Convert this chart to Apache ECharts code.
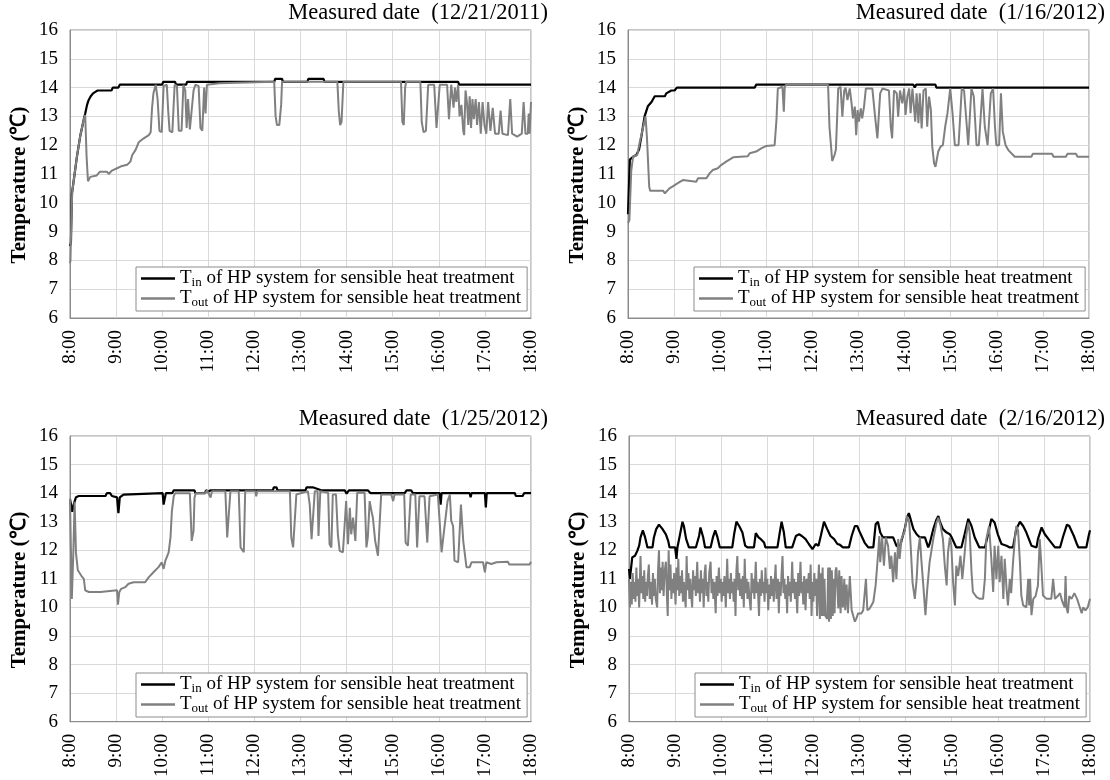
<!DOCTYPE html>
<html>
<head>
<meta charset="utf-8">
<title>HP system temperatures</title>
<script src="https://cdn.jsdelivr.net/npm/echarts@6/dist/echarts.min.js"></script>
<style>
    html, body { margin: 0; padding: 0; background: #fff; }
    #chart { width: 1110px; height: 780px; }
</style>
</head>
<body>
<div id="chart"></div>
<script>
// x = hour of day, y = temperature (℃)
var dates = ['12/21/2011', '1/16/2012', '1/25/2012', '2/16/2012'];
var hourTicks = [8, 9, 10, 11, 12, 13, 14, 15, 16, 17, 18];

var p1In = [[8.00,8.5],[8.02,8.6],[8.04,10.3],[8.10,11.0],[8.15,11.6],[8.22,12.3],[8.30,12.9],[8.33,13.1],[8.37,13.4],
    [8.40,13.55],[8.45,13.7],[8.50,13.8],[8.55,13.85],[8.60,13.9],[8.90,13.9],[8.93,14.0],[9.05,14.0],[9.08,14.1],
    [10.00,14.1],[10.02,14.2],[10.28,14.2],[10.30,14.1],[10.52,14.1],[10.54,14.2],[12.43,14.2],[12.45,14.3],
    [12.60,14.3],[12.62,14.2],[13.15,14.2],[13.17,14.3],[13.50,14.3],[13.52,14.2],[16.42,14.2],[16.44,14.1],[18.00,14.1]];
var p1Out = [[8.00,7.9],[8.01,8.0],[8.03,9.5],[8.05,10.4],[8.10,11.0],[8.15,11.6],[8.22,12.3],[8.30,12.9],[8.33,13.05],
    [8.36,11.6],[8.39,10.75],[8.44,10.9],[8.58,10.95],[8.65,11.08],[8.80,11.08],[8.84,11.0],[8.91,11.12],[9.02,11.2],
    [9.13,11.28],[9.24,11.32],[9.31,11.43],[9.35,11.66],[9.42,11.83],[9.49,12.1],[9.60,12.24],[9.71,12.35],[9.75,12.45],
    [9.78,13.3],[9.81,13.8],[9.86,14.1],[9.90,13.6],[9.94,12.5],[9.99,12.45],[10.03,14.05],[10.10,14.1],[10.13,13.2],
    [10.16,12.5],[10.22,12.45],[10.27,14.1],[10.32,14.05],[10.36,12.5],[10.42,12.5],[10.46,14.1],[10.50,13.9],[10.53,12.6],
    [10.56,13.6],[10.60,12.55],[10.64,12.5],[10.68,13.9],[10.72,14.1],[10.79,14.05],[10.83,12.6],[10.87,12.5],[10.91,14.0],
    [10.94,13.1],[10.97,14.1],[11.01,14.15],[11.24,14.15],[11.26,14.2],[12.43,14.2],[12.46,13.0],[12.49,12.7],[12.54,12.7],
    [12.58,13.4],[12.60,14.2],[13.80,14.2],[13.83,13.2],[13.86,12.7],[13.89,12.8],[13.93,14.2],[15.18,14.2],[15.21,12.8],
    [15.24,12.7],[15.27,14.0],[15.29,14.2],[15.60,14.2],[15.63,12.8],[15.67,12.45],[15.72,12.5],[15.77,14.1],[15.90,14.1],
    [15.95,12.6],[15.99,12.6],[16.02,14.1],[16.18,14.1],[16.22,12.9],[16.24,13.4],[16.27,14.1],[16.30,14.1],[16.32,13.3],
    [16.35,14.0],[16.38,13.5],[16.42,14.1],[16.45,13.0],[16.49,13.4],[16.53,12.5],[16.55,12.35],[16.58,13.9],[16.61,13.5],
    [16.64,12.7],[16.67,13.7],[16.70,12.6],[16.73,13.6],[16.76,12.9],[16.80,13.6],[16.83,12.7],[16.87,13.5],[16.91,12.4],
    [16.95,13.5],[16.99,12.7],[17.03,12.4],[17.07,13.5],[17.12,12.5],[17.17,13.3],[17.22,12.4],[17.30,12.4],[17.34,13.2],
    [17.38,12.4],[17.50,12.35],[17.55,13.6],[17.59,12.4],[17.70,12.3],[17.80,12.4],[17.84,13.5],[17.88,12.4],[17.93,12.4],
    [17.95,13.1],[17.97,12.4],[18.00,13.5]];

var p2In = [[8.00,9.6],[8.01,9.6],[8.04,11.5],[8.11,11.6],[8.18,11.66],[8.24,11.85],[8.29,12.3],[8.36,13.0],[8.43,13.35],
    [8.51,13.5],[8.58,13.7],[8.80,13.7],[8.83,13.8],[8.94,13.9],[9.01,13.9],[9.06,14.0],[10.75,14.0],[10.78,14.1],
    [14.19,14.1],[14.22,14.0],[14.25,14.1],[14.67,14.1],[14.69,14.0],[18.00,14.0]];
var p2Out = [[8.00,9.3],[8.03,9.4],[8.07,11.1],[8.11,11.6],[8.20,11.66],[8.25,12.07],[8.33,12.64],[8.38,13.0],[8.41,12.3],
    [8.46,10.56],[8.48,10.42],[8.76,10.42],[8.80,10.33],[8.83,10.38],[8.90,10.5],[8.98,10.58],[9.08,10.68],[9.19,10.79],
    [9.23,10.73],[9.48,10.73],[9.52,10.85],[9.70,10.85],[9.77,11.02],[9.84,11.14],[9.95,11.2],[10.02,11.31],[10.13,11.43],
    [10.28,11.58],[10.31,11.62],[10.60,11.62],[10.64,11.72],[10.78,11.78],[10.89,11.89],[10.99,11.97],[11.18,12.0],
    [11.22,12.87],[11.25,13.97],[11.35,14.03],[11.38,13.16],[11.40,14.03],[11.43,14.1],[12.34,14.1],[12.37,12.64],
    [12.43,11.45],[12.48,11.66],[12.51,11.85],[12.56,13.97],[12.61,14.03],[12.65,12.99],[12.69,13.9],[12.72,14.0],
    [12.76,13.57],[12.81,13.97],[12.85,13.45],[12.88,12.93],[12.92,13.34],[12.95,12.35],[12.98,13.22],[13.01,12.82],
    [13.05,13.28],[13.08,12.93],[13.12,13.34],[13.16,13.97],[13.30,13.97],[13.36,12.99],[13.41,12.24],[13.47,13.8],
    [13.52,13.97],[13.66,13.9],[13.70,12.64],[13.73,12.24],[13.77,13.9],[13.83,13.8],[13.86,12.99],[13.90,13.9],
    [13.95,13.45],[13.99,13.97],[14.02,13.05],[14.06,13.69],[14.10,13.97],[14.13,13.11],[14.17,13.97],[14.23,12.82],
    [14.26,13.8],[14.30,12.76],[14.33,13.8],[14.37,12.58],[14.41,13.9],[14.46,13.97],[14.49,12.64],[14.53,13.69],
    [14.57,13.22],[14.60,11.95],[14.64,11.37],[14.67,11.25],[14.73,11.78],[14.78,11.95],[14.83,12.0],[14.88,12.64],
    [14.93,13.11],[14.99,13.97],[15.04,13.11],[15.09,12.0],[15.17,12.0],[15.24,13.97],[15.29,13.9],[15.35,12.64],
    [15.38,12.0],[15.45,13.97],[15.50,13.7],[15.56,12.0],[15.61,12.0],[15.69,13.97],[15.74,12.64],[15.80,12.0],
    [15.87,13.8],[15.92,13.97],[15.96,12.64],[15.99,12.0],[16.05,12.0],[16.09,13.8],[16.13,12.47],[16.19,12.0],
    [16.25,11.83],[16.39,11.6],[16.75,11.6],[16.78,11.7],[17.20,11.7],[17.23,11.6],[17.50,11.6],[17.53,11.7],
    [17.72,11.7],[17.75,11.6],[18.00,11.6]];

var p3In = [[8.00,13.8],[8.02,13.8],[8.05,13.35],[8.08,13.6],[8.13,13.86],[8.19,13.9],[8.77,13.9],[8.80,14.0],[8.87,14.0],
    [8.91,13.9],[9.02,13.85],[9.05,13.3],[9.08,13.85],[9.16,13.95],[9.20,14.0],[10.01,14.0],[10.03,13.6],[10.06,13.6],
    [10.08,14.0],[10.22,14.0],[10.25,14.1],[10.70,14.1],[10.72,14.0],[10.93,14.0],[10.95,14.1],[11.00,14.05],[11.05,14.1],
    [12.40,14.1],[12.42,14.2],[12.48,14.2],[12.50,14.1],[13.11,14.1],[13.13,14.2],[13.28,14.2],[13.30,14.15],[13.45,14.1],
    [13.96,14.1],[14.00,13.98],[14.05,14.1],[14.46,14.1],[14.52,14.0],[15.26,14.0],[15.30,14.1],[15.40,14.1],[15.44,14.0],
    [16.02,14.0],[16.04,13.6],[16.06,14.0],[16.67,14.0],[16.69,13.86],[16.71,14.0],[17.00,14.0],[17.02,13.5],[17.04,14.0],
    [17.65,14.0],[17.67,13.9],[17.82,13.9],[17.85,14.0],[18.00,14.0]];
var p3Out = [[8.00,13.8],[8.02,12.0],[8.04,10.3],[8.07,11.8],[8.10,13.7],[8.13,11.9],[8.17,11.3],[8.25,11.1],[8.30,11.0],
    [8.33,10.6],[8.41,10.54],[8.66,10.54],[8.69,10.6],[9.02,10.6],[9.04,10.1],[9.07,10.54],[9.11,10.65],[9.20,10.71],
    [9.27,10.83],[9.38,10.88],[9.63,10.88],[9.71,11.06],[9.81,11.23],[9.92,11.41],[9.99,11.58],[10.03,11.35],[10.07,11.64],
    [10.14,11.93],[10.18,12.45],[10.21,13.37],[10.25,13.89],[10.28,14.0],[10.60,14.0],[10.64,12.33],[10.68,12.68],
    [10.70,13.84],[10.73,14.0],[10.94,14.0],[10.97,14.1],[11.01,14.05],[11.05,13.85],[11.08,14.07],[11.37,14.07],
    [11.41,12.45],[11.44,12.39],[11.48,14.07],[11.66,14.07],[11.70,12.1],[11.77,11.93],[11.80,14.07],[12.02,14.07],
    [12.04,13.89],[12.06,14.07],[12.77,14.07],[12.80,12.45],[12.84,12.1],[12.87,12.1],[12.91,13.95],[12.95,14.0],
    [13.16,14.07],[13.20,13.6],[13.24,12.39],[13.27,12.39],[13.31,14.07],[13.37,14.07],[13.39,12.5],[13.43,14.07],
    [13.60,14.01],[13.63,12.21],[13.67,12.1],[13.70,13.95],[13.77,13.95],[13.81,12.56],[13.85,11.98],[13.92,11.93],
    [13.99,13.72],[14.03,12.21],[14.07,13.49],[14.10,12.56],[14.14,13.14],[14.19,12.33],[14.23,14.01],[14.39,14.01],
    [14.43,12.1],[14.46,12.45],[14.50,13.72],[14.54,13.37],[14.57,13.14],[14.62,12.33],[14.68,11.81],[14.75,13.95],
    [14.97,13.95],[15.01,13.72],[15.04,13.95],[15.25,13.95],[15.28,12.27],[15.33,12.16],[15.39,13.95],[15.49,13.95],
    [15.53,12.1],[15.58,13.89],[15.69,13.89],[15.75,12.27],[15.80,13.89],[15.98,13.95],[16.02,12.97],[16.06,11.93],
    [16.09,11.87],[16.13,12.91],[16.19,13.72],[16.24,13.95],[16.27,13.03],[16.31,12.85],[16.34,11.64],[16.42,11.58],
    [16.48,13.6],[16.53,12.33],[16.60,11.41],[16.67,11.41],[16.71,11.58],[16.96,11.58],[17.00,11.23],[17.03,11.58],
    [17.14,11.52],[17.25,11.58],[17.50,11.6],[17.53,11.5],[17.97,11.5],[18.00,11.6]];

var p4In = [[8.00,11.35],[8.02,11.0],[8.07,11.75],[8.13,11.81],[8.18,11.98],[8.22,12.16],[8.25,12.45],[8.30,12.7],
    [8.35,12.45],[8.40,12.1],[8.51,12.1],[8.54,12.45],[8.59,12.74],[8.65,12.9],[8.72,12.76],[8.80,12.56],[8.85,12.33],
    [8.88,12.1],[9.00,12.1],[9.03,11.7],[9.05,12.1],[9.10,12.5],[9.16,13.0],[9.19,12.85],[9.24,12.39],[9.30,12.1],
    [9.45,12.1],[9.52,12.5],[9.55,12.8],[9.61,12.45],[9.65,12.1],[9.77,12.1],[9.82,12.45],[9.87,12.7],[9.92,12.45],
    [9.97,12.1],[10.24,12.1],[10.28,12.56],[10.33,13.0],[10.39,12.85],[10.46,12.62],[10.52,12.16],[10.57,12.1],
    [10.71,12.1],[10.75,12.6],[10.81,12.45],[10.86,12.39],[10.93,12.27],[10.96,12.1],[11.22,12.1],[11.27,12.62],
    [11.31,13.0],[11.36,12.62],[11.40,12.1],[11.54,12.1],[11.62,12.5],[11.66,12.45],[11.69,12.56],[11.75,12.5],
    [11.83,12.39],[11.90,12.22],[11.98,12.04],[12.01,12.1],[12.05,12.22],[12.11,12.16],[12.16,12.5],[12.23,13.0],
    [12.30,12.74],[12.37,12.5],[12.45,12.39],[12.52,12.22],[12.57,12.2],[12.64,12.1],[12.77,12.1],[12.83,12.5],
    [12.90,12.85],[12.95,12.85],[13.01,12.62],[13.06,12.45],[13.11,12.27],[13.19,12.1],[13.30,12.1],[13.35,12.91],
    [13.40,13.0],[13.45,12.62],[13.51,12.45],[13.73,12.45],[13.80,12.16],[13.87,12.1],[13.91,12.33],[13.98,12.74],
    [14.03,13.14],[14.07,13.3],[14.11,13.08],[14.17,12.74],[14.24,12.56],[14.31,12.45],[14.42,12.45],[14.49,12.1],
    [14.52,12.22],[14.60,12.74],[14.67,13.08],[14.71,13.2],[14.74,13.02],[14.81,12.74],[14.89,12.62],[14.96,12.56],
    [15.00,12.45],[15.07,12.2],[15.10,12.1],[15.21,12.1],[15.28,12.56],[15.36,13.1],[15.43,12.85],[15.50,12.45],
    [15.57,12.2],[15.60,12.1],[15.72,12.1],[15.79,12.56],[15.86,13.1],[15.93,12.97],[16.00,12.56],[16.08,12.22],
    [16.19,12.16],[16.26,12.1],[16.33,12.1],[16.40,12.74],[16.48,13.0],[16.55,12.85],[16.62,12.62],[16.73,12.16],
    [16.84,12.1],[16.87,12.39],[16.95,12.8],[17.02,12.56],[17.13,12.33],[17.24,12.1],[17.35,12.1],[17.42,12.5],
    [17.50,12.9],[17.55,12.85],[17.65,12.5],[17.72,12.2],[17.75,12.1],[17.92,12.1],[17.97,12.5],[18.00,12.7]];
var p4Out = [[8.00,11.0],[8.02,10.0],[8.04,10.9],[8.06,10.1],[8.08,11.2],[8.10,10.3],[8.12,10.9],[8.14,10.2],[8.16,11.4],
    [8.18,10.4],[8.20,11.0],[8.22,10.0],[8.25,11.8],[8.27,10.5],[8.29,11.1],[8.31,10.3],[8.33,11.3],[8.35,10.2],[8.37,10.9],
    [8.39,10.4],[8.41,11.1],[8.43,11.5],[8.45,10.3],[8.47,10.9],[8.50,10.1],[8.52,11.2],[8.54,10.4],[8.56,11.0],[8.58,10.3],
    [8.61,10.0],[8.63,11.3],[8.65,12.0],[8.67,10.5],[8.69,11.4],[8.71,10.6],[8.73,11.6],[8.75,10.4],[8.77,11.2],[8.80,11.6],
    [8.82,10.5],[8.84,9.7],[8.86,12.0],[8.88,10.6],[8.90,11.5],[8.92,10.3],[8.94,11.0],[8.96,10.5],[8.98,11.2],[9.01,10.1],
    [9.03,11.4],[9.05,10.6],[9.07,11.7],[9.09,10.4],[9.11,11.1],[9.13,10.5],[9.15,11.3],[9.17,10.2],[9.19,10.9],[9.21,10.4],
    [9.23,10.0],[9.25,11.8],[9.27,10.6],[9.29,11.2],[9.31,10.3],[9.33,11.0],[9.35,10.4],[9.37,10.0],[9.39,11.3],[9.41,10.6],
    [9.43,11.1],[9.45,10.4],[9.48,11.6],[9.50,10.5],[9.52,11.0],[9.54,10.2],[9.56,11.3],[9.58,10.5],[9.60,11.0],[9.62,10.0],
    [9.64,11.2],[9.66,11.5],[9.68,10.4],[9.70,10.9],[9.72,10.2],[9.74,11.2],[9.77,11.6],[9.79,10.5],[9.81,11.0],[9.83,10.3],
    [9.85,10.9],[9.88,9.8],[9.90,11.1],[9.92,10.4],[9.95,11.4],[9.97,10.5],[9.99,11.0],[10.01,10.2],[10.03,10.9],[10.05,10.4],
    [10.07,11.1],[10.10,10.0],[10.13,11.7],[10.15,10.5],[10.17,11.0],[10.19,10.3],[10.21,11.2],[10.23,10.5],[10.25,10.9],
    [10.27,10.2],[10.29,11.0],[10.31,9.7],[10.33,11.3],[10.35,11.8],[10.37,10.6],[10.39,11.2],[10.41,10.4],[10.43,11.0],
    [10.45,10.3],[10.47,11.1],[10.49,10.0],[10.51,11.7],[10.53,10.5],[10.55,11.0],[10.57,10.3],[10.59,10.9],[10.61,10.4],
    [10.64,9.9],[10.66,11.2],[10.68,10.5],[10.70,11.0],[10.72,10.3],[10.75,11.6],[10.77,10.5],[10.79,10.9],[10.82,9.7],
    [10.84,11.0],[10.86,10.4],[10.88,11.3],[10.90,10.5],[10.92,10.9],[10.94,10.2],[10.96,11.4],[10.98,10.5],[11.00,11.0],
    [11.02,9.9],[11.04,10.8],[11.06,10.3],[11.08,11.1],[11.10,10.4],[11.12,11.0],[11.14,10.2],[11.16,10.9],[11.18,11.5],
    [11.20,10.3],[11.23,11.0],[11.25,9.8],[11.27,10.9],[11.29,10.4],[11.31,11.2],[11.33,11.8],[11.35,10.5],[11.37,11.0],
    [11.39,10.3],[11.41,10.8],[11.43,9.8],[11.45,11.1],[11.47,10.4],[11.49,10.9],[11.51,10.2],[11.54,11.6],[11.56,10.5],
    [11.58,11.0],[11.60,10.3],[11.62,10.9],[11.65,9.8],[11.67,11.2],[11.69,10.4],[11.72,11.6],[11.74,10.5],[11.76,10.9],
    [11.78,10.1],[11.80,11.1],[11.83,9.9],[11.85,11.0],[11.87,10.5],[11.90,11.2],[11.92,10.3],[11.94,11.5],[11.96,9.7],
    [11.98,10.9],[12.00,10.2],[12.02,11.2],[12.04,10.4],[12.06,11.0],[12.08,9.7],[12.10,10.8],[12.12,11.5],[12.14,9.6],
    [12.16,11.2],[12.18,9.7],[12.20,11.4],[12.22,9.7],[12.24,11.0],[12.26,9.7],[12.30,9.6],[12.32,11.4],[12.34,9.5],
    [12.36,11.4],[12.38,9.6],[12.40,11.3],[12.42,9.7],[12.44,11.0],[12.46,9.8],[12.48,11.3],[12.50,11.4],[12.54,9.96],
    [12.56,11.3],[12.59,9.8],[12.61,11.1],[12.64,10.0],[12.67,11.0],[12.69,9.9],[12.72,10.8],[12.75,9.8],[12.79,11.1],
    [12.83,9.9],[12.86,9.73],[12.90,9.5],[12.93,9.61],[12.97,9.79],[13.04,9.79],[13.08,9.9],[13.14,11.0],[13.17,9.9],
    [13.22,9.96],[13.30,10.19],[13.35,10.77],[13.40,11.81],[13.43,12.5],[13.45,11.58],[13.49,12.45],[13.53,11.46],
    [13.57,12.45],[13.62,12.16],[13.66,11.35],[13.69,11.81],[13.73,10.88],[13.77,11.93],[13.80,11.0],[13.84,12.39],
    [13.87,11.7],[13.91,12.39],[13.98,12.68],[14.03,13.2],[14.08,12.97],[14.11,12.16],[14.15,10.88],[14.20,10.3],
    [14.24,11.0],[14.27,11.93],[14.31,12.45],[14.34,11.7],[14.39,10.65],[14.43,9.73],[14.47,10.65],[14.52,11.58],
    [14.60,12.39],[14.67,12.97],[14.71,13.14],[14.76,12.85],[14.81,12.39],[14.85,11.46],[14.89,10.77],[14.92,11.93],
    [14.96,12.45],[14.99,12.2],[15.03,10.88],[15.07,10.07],[15.10,11.46],[15.14,11.1],[15.19,11.81],[15.23,11.0],
    [15.27,11.7],[15.31,12.45],[15.36,12.97],[15.39,12.62],[15.43,11.23],[15.46,10.54],[15.54,10.36],[15.61,10.3],
    [15.68,10.3],[15.72,11.0],[15.75,12.39],[15.81,12.85],[15.86,11.7],[15.90,10.54],[15.93,12.16],[15.97,11.0],
    [16.01,12.16],[16.04,10.88],[16.08,11.81],[16.12,10.3],[16.15,11.7],[16.19,10.65],[16.22,10.07],[16.26,11.0],
    [16.29,10.5],[16.33,11.58],[16.37,12.39],[16.40,12.85],[16.44,12.7],[16.48,11.58],[16.51,10.42],[16.55,10.07],
    [16.62,10.0],[16.66,11.0],[16.68,10.07],[16.70,11.0],[16.73,9.73],[16.77,10.3],[16.82,10.4],[16.87,10.77],
    [16.91,12.39],[16.94,11.6],[16.98,10.42],[17.06,10.3],[17.16,10.3],[17.20,11.0],[17.24,10.3],[17.30,10.4],
    [17.35,10.5],[17.40,10.2],[17.45,10.0],[17.47,11.1],[17.49,10.0],[17.52,9.8],[17.55,10.4],[17.60,10.3],[17.66,10.5],
    [17.72,10.3],[17.78,10.0],[17.82,9.8],[17.85,10.0],[17.90,9.9],[17.95,10.0],[18.00,10.3]];

var seriesIn = [p1In, p2In, p3In, p4In];
var seriesOut = [p1Out, p2Out, p3Out, p4Out];

var font = "'Liberation Serif', 'Times New Roman', serif";
var grids = [
    { left: 70, top: 30, width: 461, height: 288 },
    { left: 628, top: 30, width: 461, height: 288 },
    { left: 70, top: 436, width: 461, height: 288 },
    { left: 629, top: 436, width: 461, height: 288 }
];

var option = {
    backgroundColor: '#fff',
    animation: false,
    title: [],
    legend: [],
    grid: [],
    xAxis: [],
    yAxis: [],
    series: []
};

for (var i = 0; i < 4; i++) {
    var g = grids[i];
    option.grid.push({
        left: g.left, top: g.top, width: g.width, height: g.height,
        show: true, borderColor: '#8c8c8c', borderWidth: 1, backgroundColor: '#fff'
    });
    option.title.push({
        text: 'Measured date  (' + dates[i] + ')',
        right: i % 2 === 0 ? 562 : 5,
        top: g.top - 28,
        padding: 0,
        textStyle: { fontFamily: font, fontWeight: 'normal', fontSize: 22.5, color: '#000' }
    });
    option.legend.push({
        data: ['Tin', 'Tout'],
        orient: 'vertical',
        left: g.left + 66,
        top: g.top + 237,
        padding: [2, 6, 2, 5],
        itemGap: 0,
        icon: 'rect',
        itemWidth: 34,
        itemHeight: 2.5,
        borderColor: '#8c8c8c',
        borderWidth: 1,
        backgroundColor: '#fff',
        selectedMode: false,
        formatter: function (name) {
            var sub = name === 'Tin' ? 'in' : 'out';
            return '{m|T}{s|' + sub + '}{m| of HP system for sensible heat treatment}';
        },
        textStyle: {
            fontFamily: font,
            color: '#000',
            rich: {
                m: { fontFamily: font, fontSize: 19, lineHeight: 21, color: '#000' },
                s: { fontFamily: font, fontSize: 13, lineHeight: 13, verticalAlign: 'bottom', color: '#000' }
            }
        }
    });
    option.xAxis.push({
        type: 'value',
        gridIndex: i,
        min: hourTicks[0],
        max: hourTicks[hourTicks.length - 1],
        interval: 1,
        axisLine: { show: true, lineStyle: { color: '#8c8c8c' } },
        axisTick: { show: false },
        splitLine: { show: true, lineStyle: { color: '#d9d9d9', width: 1 } },
        axisLabel: {
            rotate: 90,
            margin: 12,
            fontFamily: font,
            fontSize: 19,
            color: '#000',
            formatter: function (val) {
                return val + ':00';
            }
        }
    });
    option.yAxis.push({
        type: 'value',
        gridIndex: i,
        min: 6,
        max: 16,
        interval: 1,
        name: 'Temperature (℃)',
        nameLocation: 'middle',
        nameGap: 40,
        nameTextStyle: {
            fontFamily: font, fontWeight: 'bold', fontSize: 21, color: '#000',
            padding: [0, 22, 0, 0]
        },
        axisLine: { show: true, lineStyle: { color: '#8c8c8c' } },
        axisTick: { show: false },
        splitLine: { show: true, lineStyle: { color: '#d9d9d9', width: 1 } },
        axisLabel: { margin: 12, fontFamily: font, fontSize: 19, color: '#000' }
    });
    option.series.push({
        name: 'Tin',
        type: 'line',
        xAxisIndex: i,
        yAxisIndex: i,
        data: seriesIn[i],
        symbol: 'none',
        color: '#000',
        lineStyle: { color: '#000', width: 2.2 }
    });
    option.series.push({
        name: 'Tout',
        type: 'line',
        xAxisIndex: i,
        yAxisIndex: i,
        data: seriesOut[i],
        symbol: 'none',
        color: '#808080',
        lineStyle: { color: '#808080', width: 2 }
    });
}

var chart = echarts.init(document.getElementById('chart'));
chart.setOption(option);
</script>
</body>
</html>
